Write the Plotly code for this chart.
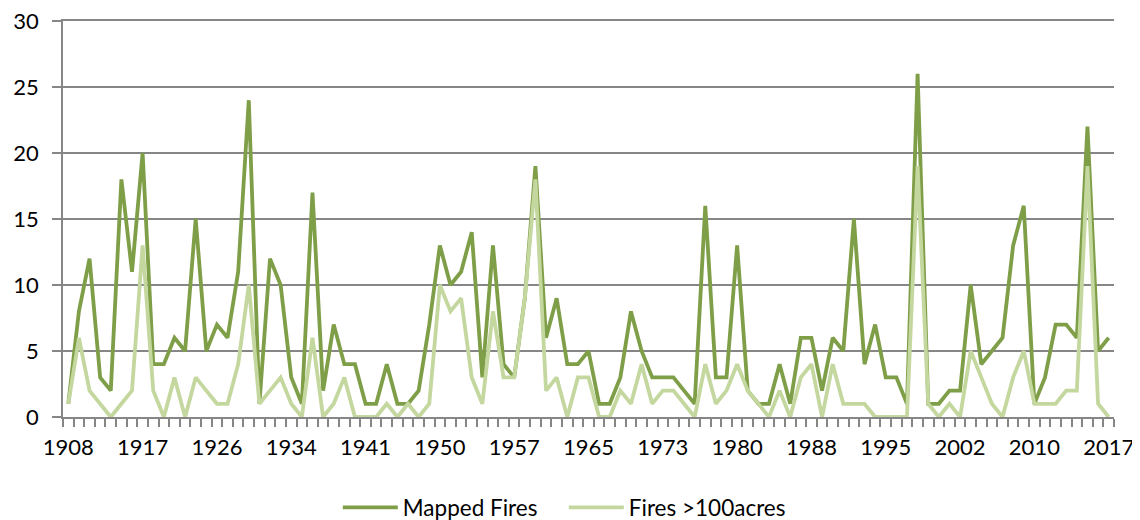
import plotly.graph_objects as go

# Categories (years) – 99 categories on the axis, labels every 7th
years = [1908, 1909, 1910, 1911, 1913, 1914, 1916,
         1917, 1918, 1919, 1921, 1922, 1924, 1925,
         1926, 1927, 1928, 1929, 1930, 1931, 1933,
         1934, 1935, 1936, 1937, 1938, 1939, 1940,
         1941, 1942, 1943, 1945, 1946, 1947, 1949,
         1950, 1951, 1952, 1953, 1954, 1955, 1956,
         1957, 1958, 1959, 1960, 1961, 1962, 1964,
         1965, 1966, 1967, 1968, 1969, 1971, 1972,
         1973, 1974, 1975, 1976, 1977, 1978, 1979,
         1980, 1981, 1982, 1983, 1985, 1986, 1987,
         1988, 1989, 1990, 1991, 1992, 1993, 1994,
         1995, 1996, 1997, 1998, 1999, 2000, 2001,
         2002, 2003, 2004, 2005, 2006, 2008, 2009,
         2010, 2011, 2012, 2013, 2014, 2015, 2016,
         2017]

tick_years = [1908, 1917, 1926, 1934, 1941, 1950, 1957, 1965,
              1973, 1980, 1988, 1995, 2002, 2010, 2017]

mapped_fires = [1, 8, 12, 3, 2, 18, 11, 20, 4, 4, 6, 5, 15, 5, 7, 6, 11,
                24, 1, 12, 10, 3, 1, 17, 2, 7, 4, 4, 1, 1, 4, 1, 1, 2,
                7, 13, 10, 11, 14, 3, 13, 4, 3, 9, 19, 6, 9, 4, 4, 5,
                1, 1, 3, 8, 5, 3, 3, 3, 2, 1, 16, 3, 3, 13, 2, 1,
                1, 4, 1, 6, 6, 2, 6, 5, 15, 4, 7, 3, 3, 1, 26, 1,
                1, 2, 2, 10, 4, 5, 6, 13, 16, 1, 3, 7, 7, 6, 22, 5, 6]

fires_over_100 = [1, 6, 2, 1, 0, 1, 2, 13, 2, 0, 3, 0, 3, 2, 1, 1, 4,
                  10, 1, 2, 3, 1, 0, 6, 0, 1, 3, 0, 0, 0, 1, 0, 1, 0,
                  1, 10, 8, 9, 3, 1, 8, 3, 3, 9, 18, 2, 3, 0, 3, 3,
                  0, 0, 2, 1, 4, 1, 2, 2, 1, 0, 4, 1, 2, 4, 2, 1,
                  0, 2, 0, 3, 4, 0, 4, 1, 1, 1, 0, 0, 0, 0, 19, 1,
                  0, 1, 0, 5, 3, 1, 0, 3, 5, 1, 1, 1, 2, 2, 19, 1, 0]

cats = [str(y) for y in years]
tick_text = [str(y) if y in tick_years else "" for y in years]

DARK = "#7F9E48"
LIGHT = "#C4D79E"
GRID = "#868686"
FONT = "Lato, Carlito, 'Liberation Sans', sans-serif"

fig = go.Figure()
fig.add_trace(go.Scatter(x=cats, y=mapped_fires, mode="lines", name="Mapped Fires",
                         line=dict(color=DARK, width=3.8)))
fig.add_trace(go.Scatter(x=cats, y=fires_over_100, mode="lines", name="Fires >100acres",
                         line=dict(color=LIGHT, width=3.8)))

# page body has an 8px margin, so the figure is sized to fit the 1140x520 window
fig.update_layout(
    width=1132, height=512,
    margin=dict(l=55, r=26, t=13, b=103, autoexpand=False),
    paper_bgcolor="white", plot_bgcolor="white",
    font=dict(family=FONT, size=22, color="#000000"),
    showlegend=True,
    legend=dict(orientation="h", x=0.491, xanchor="center", xref="container",
                y=0.024, yanchor="middle", yref="container",
                font=dict(size=22.5), traceorder="normal",
                itemwidth=55, entrywidth=156),
)
fig.update_xaxes(type="category", tickmode="array", tickvals=cats, ticktext=tick_text,
                 tickson="boundaries", ticks="outside", ticklen=8, tickwidth=1.5,
                 tickcolor=GRID, showline=True, linecolor=GRID, linewidth=1.5,
                 mirror=True,
                 showgrid=False, range=[-0.5, len(cats) - 0.5], tickangle=0,
                 ticklabelstandoff=10, tickfont=dict(size=22), automargin=False)
fig.update_yaxes(range=[0, 30], dtick=5, tick0=0, showgrid=True, gridcolor=GRID,
                 gridwidth=1.5, showline=True, linecolor=GRID, linewidth=1.5,
                 ticks="outside", ticklen=9, tickwidth=1.5, tickcolor=GRID,
                 zeroline=False, tickfont=dict(size=22), ticklabelstandoff=9,
                 ticklabeloverflow="allow", automargin=False)

fig.write_html("out.html")
